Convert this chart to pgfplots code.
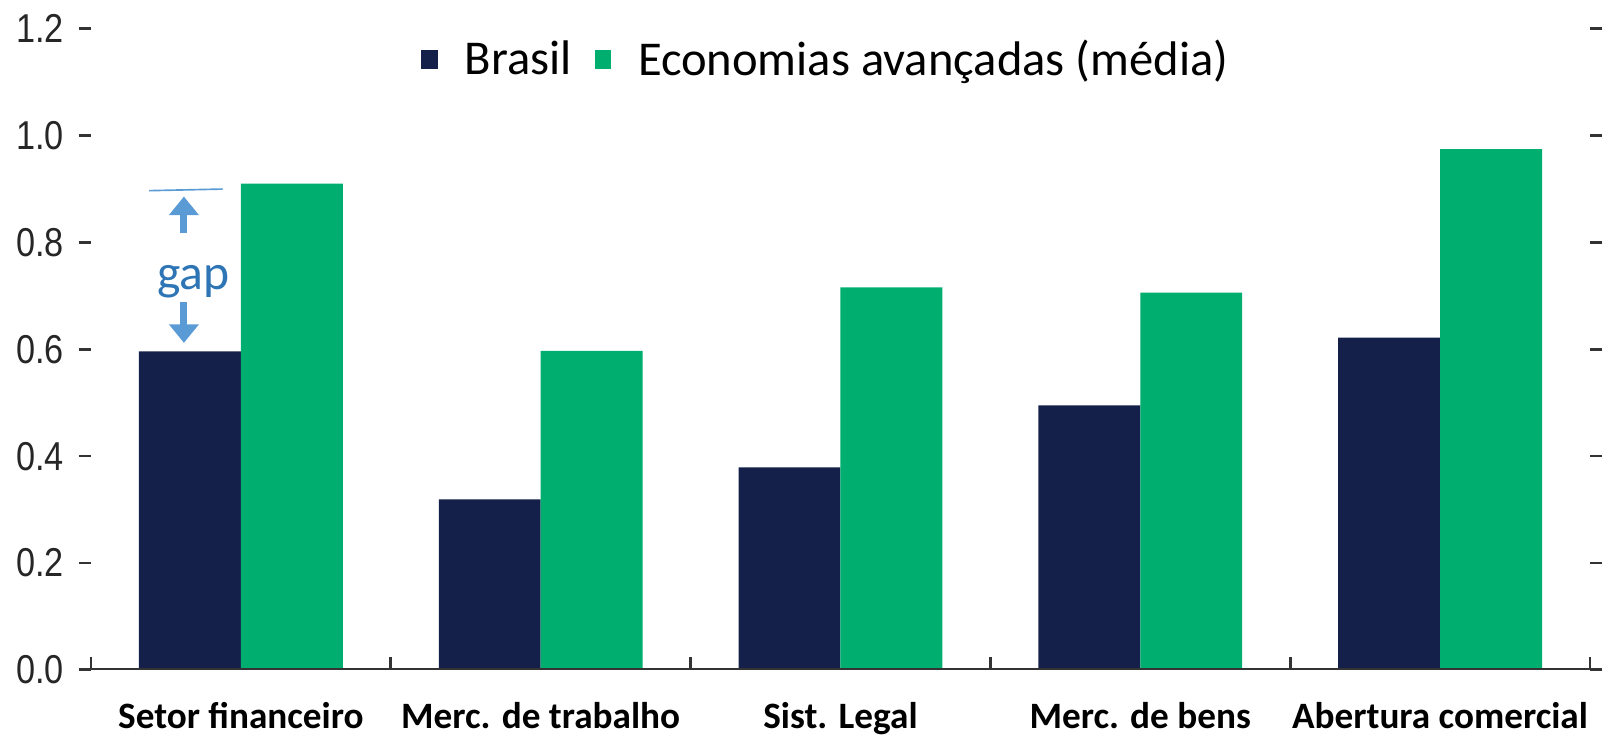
\documentclass[border=0pt]{standalone}
\usepackage{fontspec}
\setmainfont{Carlito}
\newfontfamily\ticksfont[FakeStretch=0.85]{Liberation Sans}
\usepackage{pgfplots}
\pgfplotsset{compat=1.18}
\usetikzlibrary{arrows.meta}

\definecolor{navy}{HTML}{14204A}
\definecolor{verde}{HTML}{00AF6F}
\definecolor{axisgray}{HTML}{333333}
\definecolor{gapline}{HTML}{5B9BD5}
\definecolor{gaptext}{HTML}{2E75B6}

\begin{document}
\begin{tikzpicture}
  \begin{axis}[
      scale only axis,
      width  = 725pt,
      height = 310pt,
      xmin = -0.5, xmax = 4.5,
      ymin = 0,    ymax = 1.2,
      ybar = 0pt,
      bar width = 0.34,
      axis line style = {draw=none},
      tick align = outside,
      major tick length = 6pt,
      minor tick length = 6pt,
      % categories
      xtick = {0,1,2,3,4},
      xticklabels = {Setor financeiro, Merc. de trabalho, Sist. Legal,
                     Merc. de bens, Abertura comercial},
      xtick pos = bottom,
      major x tick style = {draw=none},
      minor xtick = {-0.5,0.5,1.5,2.5,3.5,4.5},
      minor x tick style = {line width=1.3pt, color=axisgray, yshift=6pt},
      x tick label style = {font=\fontsize{18}{20}\selectfont\bfseries,
                            anchor=base, yshift=-22.5pt},
      % values
      ytick = {0,0.2,0.4,0.6,0.8,1.0,1.2},
      yticklabels = {0.0,0.2,0.4,0.6,0.8,1.0,1.2},
      ytick pos = both,
      yticklabel pos = left,
      major y tick style = {line width=1.3pt, color=axisgray},
      y tick label style = {font=\ticksfont\fontsize{19.5}{22}\selectfont,
                            text=black!85, xshift=-3.5pt},
      % legend
      legend style = {at={(rel axis cs:0.491,0.952)}, anchor=center,
                      draw=none, fill=none, legend columns=2,
                      font=\fontsize{23.5}{26}\selectfont,
                      /tikz/every odd column/.append style={column sep=11pt},
                      /tikz/every even column/.append style={column sep=9pt}},
      legend image code/.code={\fill[#1, draw=none] (0pt,-4.5pt) rectangle (8pt,4.5pt);},
    ]
    \addplot[fill=navy, draw=none] coordinates {
      (0,0.596) (1,0.319) (2,0.379) (3,0.495) (4,0.622)
    };
    \addlegendentry{Brasil}
    \addplot[fill=verde, draw=none] coordinates {
      (0,0.910) (1,0.597) (2,0.716) (3,0.706) (4,0.975)
    };
    \addlegendentry{Economias avançadas (média)}

    % bottom axis line
    \draw[line width=1.4pt, color=axisgray]
      (rel axis cs:-0.007,0) -- (rel axis cs:1.008,0);

    % gap annotation
    \draw[line width=0.8pt, color=gapline] (axis cs:-0.306,0.897) -- (axis cs:-0.061,0.900);
    \draw[line width=3.4pt, color=gapline, -{Triangle[width=14pt,length=9pt]}]
      (axis cs:-0.19,0.817) -- (axis cs:-0.19,0.886);
    \draw[line width=3.4pt, color=gapline, -{Triangle[width=14pt,length=9pt]}]
      (axis cs:-0.19,0.689) -- (axis cs:-0.19,0.612);
    \node[text=gaptext, font=\fontsize{24}{26}\selectfont, anchor=base, inner sep=0pt]
      at (axis cs:-0.158,0.712) {gap};

    \coordinate (bl) at (rel axis cs:-0.0607,-0.1048);
    \coordinate (tr) at (rel axis cs:1.0207,1.045);
  \end{axis}
  \pgfresetboundingbox
  \path[use as bounding box] (bl) rectangle (tr);
\end{tikzpicture}
\end{document}
